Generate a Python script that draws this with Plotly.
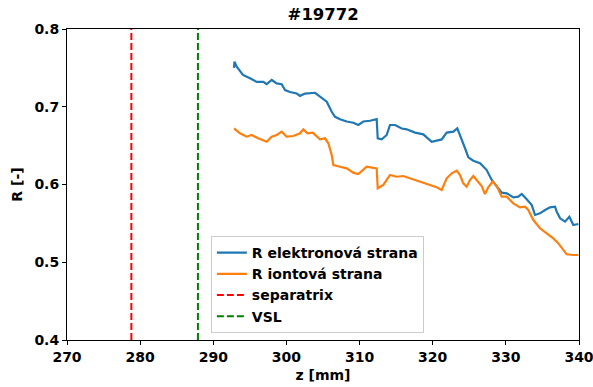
import plotly.graph_objects as go

# Electron-side ratio R along z
z_el = [292.83, 292.9, 293.2, 294.06, 295.02, 295.94, 296.84, 297.3, 297.99, 298.67,
        299.35, 299.81, 300.49, 301.4, 301.86, 302.54, 303.91, 304.59, 305.51, 306.19,
        306.65, 307.33, 308.24, 309.14, 309.83, 310.51, 311.43, 312.34, 312.48, 313.03,
        313.71, 314.16, 314.85, 315.76, 316.44, 317.58, 318.71, 319.86, 320.54, 321.23,
        321.91, 322.82, 323.36, 323.73, 324.42, 324.87, 325.55, 326.47, 327.38, 328.07,
        328.75, 329.43, 330.12, 331.02, 331.7, 332.17, 332.85, 333.54, 333.99, 334.67,
        335.36, 336.04, 336.72, 336.96, 337.41, 338.09, 338.68, 339.22, 339.91]
r_el = [0.750, 0.758, 0.7515, 0.741, 0.7366, 0.732, 0.732, 0.729, 0.7344, 0.730,
        0.729, 0.7215, 0.719, 0.717, 0.714, 0.717, 0.718, 0.713, 0.7065, 0.6936,
        0.687, 0.6839, 0.681, 0.6795, 0.6765, 0.681, 0.682, 0.684, 0.6594, 0.658,
        0.6637, 0.6765, 0.6765, 0.672, 0.671, 0.6667, 0.6645, 0.655, 0.6563, 0.658,
        0.6667, 0.668, 0.6723, 0.6624, 0.6466, 0.635, 0.6306, 0.6273, 0.6186, 0.6058,
        0.5972, 0.5895, 0.5887, 0.5835, 0.5843, 0.5878, 0.581, 0.5736, 0.5608, 0.5629,
        0.5672, 0.5706, 0.5715, 0.565, 0.5565, 0.5522, 0.5586, 0.5479, 0.5492]

# Ion-side ratio R along z
z_ion = [292.83, 293.65, 294.56, 295.24, 296.14, 297.3, 297.99, 298.67, 299.35, 300.03,
         300.94, 301.86, 302.31, 302.86, 303.6, 304.14, 304.59, 305.28, 305.73, 306.19,
         306.42, 307.33, 308.24, 309.14, 309.83, 310.97, 311.66, 312.34, 312.48, 313.25,
         314.16, 315.08, 315.98, 316.9, 317.58, 318.94, 319.86, 320.54, 321.23, 321.91,
         322.6, 323.28, 323.73, 324.18, 324.64, 325.09, 325.55, 326.01, 326.69, 327.14,
         327.59, 328.19, 328.75, 329.43, 330.12, 331.02, 331.93, 332.62, 333.07, 333.76,
         334.67, 335.58, 336.49, 337.18, 337.86, 338.32, 339.22, 339.91]
r_ion = [0.6723, 0.6659, 0.6615, 0.6637, 0.6594, 0.655, 0.6615, 0.6637, 0.668, 0.6615,
         0.6624, 0.6659, 0.671, 0.6659, 0.6667, 0.6615, 0.658, 0.6594, 0.653, 0.638,
         0.625, 0.6229, 0.6208, 0.6152, 0.6135, 0.6229, 0.622, 0.6208, 0.5951, 0.5994,
         0.6122, 0.610, 0.6109, 0.608, 0.6058, 0.6015, 0.598, 0.5964, 0.5929, 0.608,
         0.6144, 0.6178, 0.6122, 0.6015, 0.5972, 0.6058, 0.6109, 0.6058, 0.598, 0.5878,
         0.5964, 0.6036, 0.598, 0.5843, 0.5843, 0.5758, 0.5706, 0.5715, 0.5672, 0.5543,
         0.5437, 0.5372, 0.5307, 0.5243, 0.5157, 0.5102, 0.5093, 0.5093]

z_separatrix = 278.8
z_vsl = 287.9

x_range = [270, 340]
y_range = [0.4, 0.8]
x_ticks = [270, 280, 290, 300, 310, 320, 330, 340]
y_ticks = [0.4, 0.5, 0.6, 0.7, 0.8]

BOLD14 = dict(family="DejaVu Sans", size=14, color="black", weight="bold")

fig = go.Figure()
fig.add_trace(go.Scatter(x=z_el, y=r_el, mode="lines", name="R elektronová strana",
                         line=dict(color="#1f77b4", width=2.2)))
fig.add_trace(go.Scatter(x=z_ion, y=r_ion, mode="lines", name="R iontová strana",
                         line=dict(color="#ff7f0e", width=2.2)))
fig.add_trace(go.Scatter(x=[z_separatrix, z_separatrix], y=y_range, mode="lines",
                         name="separatrix",
                         line=dict(color="red", width=2, dash="7px,3px")))
fig.add_trace(go.Scatter(x=[z_vsl, z_vsl], y=y_range, mode="lines", name="VSL",
                         line=dict(color="green", width=2, dash="7px,3px")))

axis_common = dict(showgrid=False, zeroline=False, showline=True, linecolor="black",
                   linewidth=1, mirror=True, ticks="outside", ticklen=4,
                   tickcolor="black", tickfont=BOLD14, automargin=False,
                   ticklabeloverflow="allow")

fig.update_xaxes(range=x_range, tickvals=x_ticks, ticktext=[str(t) for t in x_ticks],
                 title=dict(text="z [mm]", font=BOLD14, standoff=6),
                 **axis_common)
fig.update_yaxes(range=y_range, tickvals=y_ticks, ticktext=[f"{t:.1f}" for t in y_ticks],
                 title=dict(text="R [-]", font=BOLD14, standoff=8),
                 **axis_common)

fig.update_layout(
    width=593, height=387,
    margin=dict(l=67, r=14, t=29, b=47),
    paper_bgcolor="white", plot_bgcolor="white",
    font=BOLD14,
    title=dict(text="#19772", x=0.545, xanchor="center", y=0.962, yanchor="middle",
               font=dict(family="DejaVu Sans", size=16.5, color="black", weight="bold")),
    legend=dict(x=0.281, y=0.0225, xanchor="left", yanchor="bottom",
                bgcolor="rgba(255,255,255,0.8)", bordercolor="#cccccc", borderwidth=1,
                font=BOLD14, tracegroupgap=0, itemwidth=30),
    showlegend=True,
)

fig.write_html("out.html")
